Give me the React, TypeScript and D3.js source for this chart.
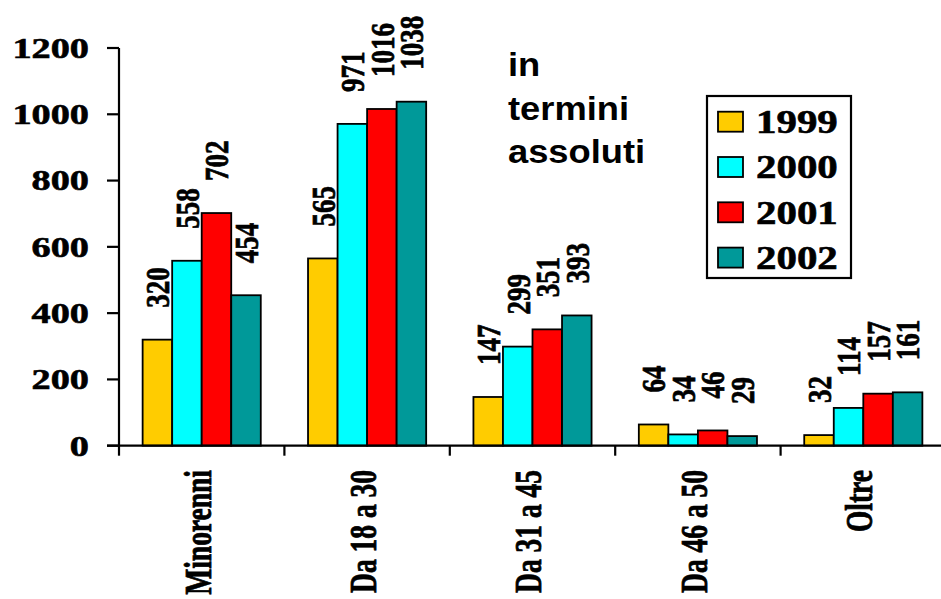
import React from "react";
import * as d3 from "d3";

const categories = ["Minorenni", "Da 18 a 30", "Da 31 a 45", "Da 46 a 50", "Oltre"];
const years = ["1999", "2000", "2001", "2002"];
const v1999 = [320, 565, 147, 64, 32];
const v2000 = [558, 971, 299, 34, 114];
const v2001 = [702, 1016, 351, 46, 157];
const v2002 = [454, 1038, 393, 29, 161];
const yTicks = [0, 200, 400, 600, 800, 1000, 1200];
const colors = ["#FFCC00", "#00FFFF", "#FF0000", "#009999"];
const noteLines = ["in", "termini", "assoluti"];

const series = [v1999, v2000, v2001, v2002];

const W = 941;
const H = 599;
const serif = "'Liberation Serif', 'Times New Roman', serif";
const sans = "'Liberation Sans', Arial, sans-serif";

export default function App() {
  const y = d3.scaleLinear().domain([0, 1200]).range([445.7, 48]);
  const x = d3.scaleBand<string>().domain(categories).range([119, 946]).paddingInner(0).paddingOuter(0);
  const xi = d3.scaleBand<string>().domain(years).range([0, x.bandwidth()]).paddingInner(0).paddingOuter(0.8);
  const labelGap = 32;

  return (
    <svg width={W} height={H} style={{ position: "absolute", left: 0, top: 0, background: "#fff" }}>
      {/* bars */}
      {categories.map((c, ci) =>
        years.map((yr, si) => {
          const v = series[si][ci];
          const bx = (x(c) as number) + (xi(yr) as number);
          return (
            <rect
              key={c + yr}
              x={bx}
              y={y(v)}
              width={xi.bandwidth()}
              height={y(0) - y(v)}
              fill={colors[si]}
              stroke="#000"
              strokeWidth={1.8}
            />
          );
        })
      )}
      {/* value labels */}
      {categories.map((c, ci) =>
        years.map((yr, si) => {
          const v = series[si][ci];
          const cx = (x(c) as number) + (xi(yr) as number) + xi.bandwidth() / 2;
          const ty = y(v) - labelGap;
          return (
            <text
              key={"l" + c + yr}
              transform={`translate(${cx},${ty}) scale(1.25,1) rotate(-90)`}
              dy="0.35em"
              textAnchor="start"
              fontFamily={serif}
              fontWeight="bold"
              fontSize={27}
              fill="#000"
              stroke="#000"
              strokeWidth={0.6}
            >
              {v}
            </text>
          );
        })
      )}
      {/* y axis */}
      <line x1={119} x2={119} y1={y(1200)} y2={y(0)} stroke="#000" strokeWidth={2.2} />
      {yTicks.map((t) => (
        <g key={"t" + t}>
          <line x1={107} x2={119} y1={y(t)} y2={y(t)} stroke="#000" strokeWidth={2.2} />
          <text
            transform={`translate(89,${y(t)}) scale(1.32,1)`}
            dy="0.34em"
            textAnchor="end"
            fontFamily={serif}
            fontWeight="bold"
            fontSize={29}
            fill="#000"
            stroke="#000"
            strokeWidth={0.6}
          >
            {t}
          </text>
        </g>
      ))}
      {/* x axis */}
      <line x1={107} x2={W} y1={y(0)} y2={y(0)} stroke="#000" strokeWidth={2.2} />
      {categories.map((c) => (
        <line key={"xt" + c} x1={x(c) as number} x2={x(c) as number} y1={y(0)} y2={y(0) + 10} stroke="#000" strokeWidth={2.2} />
      ))}
      {categories.map((c) => (
        <text
          key={"xl" + c}
          transform={`translate(${(x(c) as number) + x.bandwidth() / 2 - 4},470) scale(1.35,1) rotate(-90)`}
          dy="0.35em"
          textAnchor="end"
          fontFamily={serif}
          fontWeight="bold"
          fontSize={27.5}
          fill="#000"
          stroke="#000"
          strokeWidth={0.6}
        >
          {c}
        </text>
      ))}
      {/* note */}
      {noteLines.map((l, i) => (
        <text
          key={"n" + l}
          transform={`translate(508,${76 + i * 43.7}) scale(1.1,1)`}
          fontFamily={sans}
          fontWeight="bold"
          fontSize={33}
          fill="#000"
        >
          {l}
        </text>
      ))}
      {/* legend */}
      <rect x={707} y={96} width={144} height={182} fill="#fff" stroke="#000" strokeWidth={2.2} />
      {years.map((yr, i) => {
        const cy = 121.7 + i * 45.3;
        return (
          <g key={"lg" + yr}>
            <rect x={718} y={cy - 10} width={25} height={20} fill={colors[i]} stroke="#000" strokeWidth={1.8} />
            <text
              transform={`translate(756,${cy}) scale(1.24,1)`}
              dy="0.34em"
              fontFamily={serif}
              fontWeight="bold"
              fontSize={33}
              fill="#000"
              stroke="#000"
              strokeWidth={0.6}
            >
              {yr}
            </text>
          </g>
        );
      })}
    </svg>
  );
}
